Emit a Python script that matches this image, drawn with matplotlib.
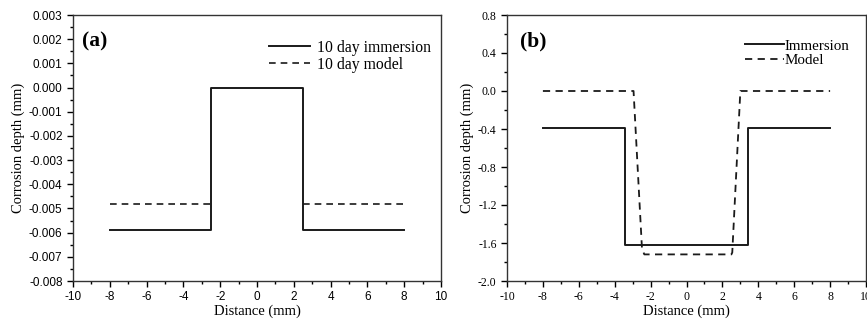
import matplotlib
matplotlib.use("Agg")
import matplotlib.pyplot as plt
from matplotlib.ticker import MultipleLocator, FormatStrFormatter

plt.rcParams["axes.unicode_minus"] = False

# panel (a): 10 day immersion vs model
a_imm_x = [-8, -2.5, -2.5, 2.5, 2.5, 8]
a_imm_y = [-0.0059, -0.0059, 0.0, 0.0, -0.0059, -0.0059]
a_mod_left_x = [-8, -2.5]
a_mod_left_y = [-0.0048, -0.0048]
a_mod_right_x = [2.5, 8]
a_mod_right_y = [-0.0048, -0.0048]

# panel (b): immersion vs model
b_imm_x = [-8, -3.4, -3.4, 3.4, 3.4, 8]
b_imm_y = [-0.385, -0.385, -1.625, -1.625, -0.385, -0.385]
b_mod_x = [-8, -2.95, -2.48, -2.35, 2.5, 2.55, 3.0, 8]
b_mod_y = [0.0, 0.0, -1.66, -1.72, -1.72, -1.70, 0.0, 0.0]

SERIF = "Liberation Serif"
SANS = "Liberation Sans"

fig = plt.figure(figsize=(8.67, 3.22), dpi=100)
W, H = 867, 322
ax_a = fig.add_axes([73 / W, 1 - 281 / H, (441 - 73) / W, (281 - 15) / H])
ax_b = fig.add_axes([507 / W, 1 - 281 / H, (866 - 507) / W, (281 - 15) / H])


def style_axes(ax, tick_font):
    ax.set_xlim(-10, 10)
    ax.xaxis.set_major_locator(MultipleLocator(2))
    ax.xaxis.set_minor_locator(MultipleLocator(1))
    ax.tick_params(which="both", direction="out", top=False, right=False, width=1.0)
    ax.tick_params(which="major", length=4, labelsize=8.5)
    ax.tick_params(which="minor", length=2)
    for lab in ax.get_xticklabels() + ax.get_yticklabels():
        lab.set_fontfamily(tick_font)
    for s in ax.spines.values():
        s.set_linewidth(1.0)
        s.set_color("#333333")
    ax.set_xlabel("Distance (mm)", fontfamily=SERIF, fontsize=10.5, labelpad=1)
    ax.set_ylabel("Corrosion depth (mm)", fontfamily=SERIF, fontsize=10.5, labelpad=3)


# (a)
ax_a.plot(a_imm_x, a_imm_y, color="#1a1a1a", lw=1.4, label="10 day immersion")
ax_a.plot(a_mod_left_x, a_mod_left_y, color="#1a1a1a", lw=1.2, ls=(0, (4, 3)), label="10 day model")
ax_a.plot(a_mod_right_x, a_mod_right_y, color="#1a1a1a", lw=1.2, ls=(0, (4, 3)))
ax_a.set_ylim(-0.008, 0.003)
ax_a.yaxis.set_major_locator(MultipleLocator(0.001))
ax_a.yaxis.set_minor_locator(MultipleLocator(0.0005))
ax_a.yaxis.set_major_formatter(FormatStrFormatter("%.3f"))
style_axes(ax_a, SANS)
ax_a.text(0.025, 0.9, "(a)", transform=ax_a.transAxes, fontfamily=SERIF,
          fontweight="bold", fontsize=15.5, va="center")
ax_a.legend(loc="upper right", bbox_to_anchor=(1.01, 0.96), frameon=False,
            prop={"family": SERIF, "size": 11.3}, handlelength=2.6,
            handletextpad=0.4, labelspacing=0.05)

# (b)
ax_b.plot(b_imm_x, b_imm_y, color="#1a1a1a", lw=1.4, label="Immersion")
ax_b.plot(b_mod_x, b_mod_y, color="#1a1a1a", lw=1.3, ls=(0, (4, 3)), label="Model")
ax_b.set_ylim(-2.0, 0.8)
ax_b.yaxis.set_major_locator(MultipleLocator(0.4))
ax_b.yaxis.set_minor_locator(MultipleLocator(0.2))
ax_b.yaxis.set_major_formatter(FormatStrFormatter("%.1f"))
style_axes(ax_b, SERIF)
ax_b.text(0.035, 0.9, "(b)", transform=ax_b.transAxes, fontfamily=SERIF,
          fontweight="bold", fontsize=15.5, va="center")
ax_b.legend(loc="upper right", bbox_to_anchor=(0.99, 0.96), frameon=False,
            prop={"family": SERIF, "size": 10.8}, handlelength=2.6,
            handletextpad=0.0, labelspacing=0.05)

fig.savefig("out.png", dpi=100)
